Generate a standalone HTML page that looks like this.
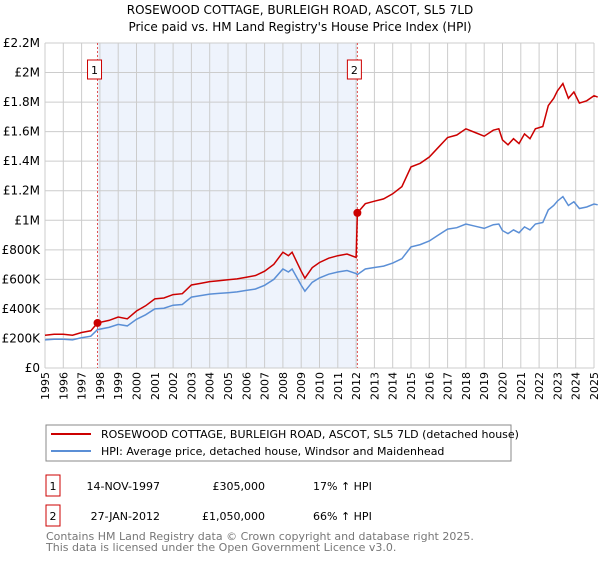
<!DOCTYPE html>
<html><head><meta charset="utf-8"><style>
body{margin:0;background:#fff;font-family:"Liberation Sans","DejaVu Sans",sans-serif;}
svg text{font-family:"DejaVu Sans","Liberation Sans",sans-serif;}
</style></head><body>
<svg id="c" width="600" height="560" xmlns="http://www.w3.org/2000/svg">
<text x="300" y="14" text-anchor="middle" font-size="12" fill="#000">ROSEWOOD COTTAGE, BURLEIGH ROAD, ASCOT, SL5 7LD</text>
<text x="300" y="31" text-anchor="middle" font-size="12" fill="#000">Price paid vs. HM Land Registry's House Price Index (HPI)</text>
<g id="plot"></g>
<g>
<rect x="46" y="425" width="465" height="36" fill="#fff" stroke="#888"/>
<line x1="51" y1="434" x2="91" y2="434" stroke="#cc0000" stroke-width="2"/>
<text x="101" y="438" font-size="11">ROSEWOOD COTTAGE, BURLEIGH ROAD, ASCOT, SL5 7LD (detached house)</text>
<line x1="51" y1="451" x2="91" y2="451" stroke="#5b8fd6" stroke-width="2"/>
<text x="101" y="455" font-size="11">HPI: Average price, detached house, Windsor and Maidenhead</text>
</g>
<g font-size="11">
<rect x="46" y="475" width="14" height="21" fill="#fff" stroke="#cc0000"/>
<text x="53" y="490" text-anchor="middle">1</text>
<text x="160" y="490" text-anchor="end">14-NOV-1997</text>
<text x="265" y="490" text-anchor="end">£305,000</text>
<text x="313" y="490">17% ↑ HPI</text>
<rect x="46" y="505" width="14" height="21" fill="#fff" stroke="#cc0000"/>
<text x="53" y="520" text-anchor="middle">2</text>
<text x="160" y="520" text-anchor="end">27-JAN-2012</text>
<text x="265" y="520" text-anchor="end">£1,050,000</text>
<text x="313" y="520">66% ↑ HPI</text>
</g>
<text x="46" y="540" font-size="11" fill="#777">Contains HM Land Registry data © Crown copyright and database right 2025.</text>
<text x="46" y="551" font-size="11" fill="#777">This data is licensed under the Open Government Licence v3.0.</text>
</svg>
<script>
const hpiDates=[1995.0,1995.5,1996.0,1996.5,1997.0,1997.5,1997.87,1998.5,1999.0,1999.5,2000.0,2000.5,2001.0,2001.5,2002.0,2002.5,2003.0,2003.5,2004.0,2004.5,2005.0,2005.5,2006.0,2006.5,2007.0,2007.5,2008.0,2008.3,2008.5,2009.0,2009.2,2009.6,2010.0,2010.5,2011.0,2011.5,2012.0,2012.07,2012.5,2013.0,2013.5,2014.0,2014.5,2015.0,2015.5,2016.0,2016.5,2017.0,2017.5,2018.0,2018.5,2019.0,2019.5,2019.8,2020.0,2020.3,2020.6,2020.9,2021.2,2021.5,2021.8,2022.2,2022.5,2022.8,2023.0,2023.3,2023.6,2023.9,2024.2,2024.6,2025.0,2025.2];
const hpiValues=[190,195,195,190,205,215,260,275,295,285,330,360,400,405,425,430,480,490,500,505,510,515,525,535,560,600,670,650,670,560,520,580,610,635,650,660,640,632,670,680,690,710,740,820,835,860,900,940,950,975,960,945,970,975,930,910,935,915,955,935,975,985,1070,1100,1130,1160,1100,1125,1080,1090,1110,1105];
const priceValues=[222,228,228,222,240,252,305,322,345,333,386,421,468,474,497,503,562,573,585,591,597,603,614,626,655,702,784,760,784,655,608,679,714,743,760,772,749,1050,1112,1129,1145,1179,1228,1361,1386,1428,1494,1560,1577,1619,1594,1569,1610,1619,1544,1511,1552,1519,1585,1552,1619,1635,1776,1826,1876,1926,1826,1868,1793,1809,1843,1834];
const yTicks=[0,200,400,600,800,1000,1200,1400,1600,1800,2000,2200];
const yTickLabels=["£0","£200K","£400K","£600K","£800K","£1M","£1.2M","£1.4M","£1.6M","£1.8M","£2M","£2.2M"];
const xYears=[1995,1996,1997,1998,1999,2000,2001,2002,2003,2004,2005,2006,2007,2008,2009,2010,2011,2012,2013,2014,2015,2016,2017,2018,2019,2020,2021,2022,2023,2024,2025];
const saleDates=[1997.87,2012.07];
const salePrices=[305,1050];
const saleLabels=["1","2"];

const L=45,R=594,T=43,B=368;
const xs=v=>L+(v-1995)/30*(R-L);
const ys=v=>B-v/2200*(B-T);
const NS="http://www.w3.org/2000/svg";
const g=document.getElementById('plot');
function mk(tag,attrs,parent){const e=document.createElementNS(NS,tag);for(const k in attrs)e.setAttribute(k,attrs[k]);(parent||g).appendChild(e);return e;}
let sh=mk('rect',{x:xs(saleDates[0]),y:T,width:xs(saleDates[1])-xs(saleDates[0]),height:B-T,fill:'#eef3fc'});


xYears.forEach(y=>{let l=mk('line',{x1:xs(y),x2:xs(y),y1:T,y2:B,stroke:'#cccccc','stroke-width':1});


let t=mk('text',{x:0,y:0,'font-size':11,'text-anchor':'end',transform:`translate(${xs(y)+4},372) rotate(-90)`});t.textContent=y;

});
yTicks.forEach((v,i)=>{let l=mk('line',{x1:L,x2:R,y1:ys(v),y2:ys(v),stroke:'#cccccc','stroke-width':1});


let t=mk('text',{x:40,y:ys(v)+4,'font-size':12,'text-anchor':'end'});t.textContent=yTickLabels[i];

});
saleDates.forEach((d,i)=>{let l=mk('line',{x1:xs(d),x2:xs(d),y1:T,y2:B,stroke:'#e05050','stroke-width':1,'stroke-dasharray':'2,2'});


let cx=xs(d)-3;let r=mk('rect',{x:cx-7,y:60,width:14,height:19,fill:'#fff',stroke:'#cc0000'});


let t=mk('text',{x:cx,y:74,'font-size':11,'text-anchor':'middle'});t.textContent=saleLabels[i];});
const path=(vals)=>hpiDates.map((d,i)=>(i?'L':'M')+xs(d).toFixed(1)+','+ys(vals[i]).toFixed(1)).join('');
let hp=mk('path',{d:path(hpiValues),fill:'none',stroke:'#5b8fd6','stroke-width':1.5});


let pp=mk('path',{d:path(priceValues),fill:'none',stroke:'#cc0000','stroke-width':1.5});


saleDates.forEach((d,i)=>{let c=mk('circle',{cx:xs(d),cy:ys(salePrices[i]),r:4,fill:'#cc0000'});

});
</script>
</body></html>
